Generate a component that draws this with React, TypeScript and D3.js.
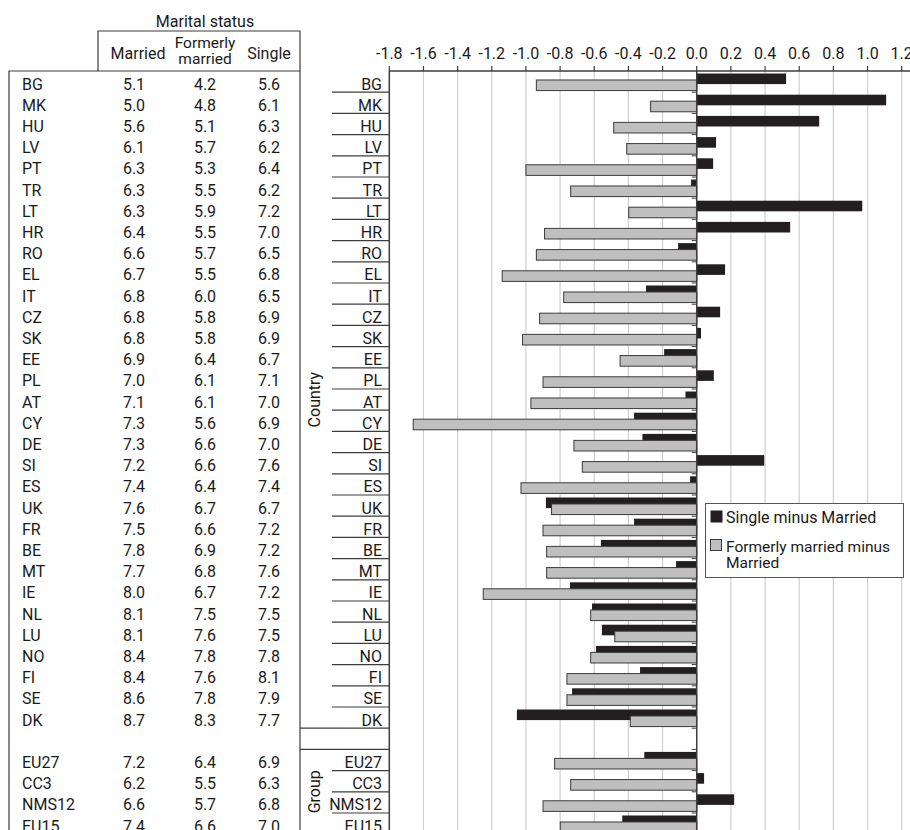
import React from "react";
import * as d3 from "d3";

const categories = ["BG","MK","HU","LV","PT","TR","LT","HR","RO","EL","IT","CZ","SK","EE","PL","AT","CY","DE","SI","ES","UK","FR","BE","MT","IE","NL","LU","NO","FI","SE","DK","","EU27","CC3","NMS12","EU15"];
const married = [5.1,5.0,5.6,6.1,6.3,6.3,6.3,6.4,6.6,6.7,6.8,6.8,6.8,6.9,7.0,7.1,7.3,7.3,7.2,7.4,7.6,7.5,7.8,7.7,8.0,8.1,8.1,8.4,8.4,8.6,8.7,null,7.2,6.2,6.6,7.4];
const formerly = [4.2,4.8,5.1,5.7,5.3,5.5,5.9,5.5,5.7,5.5,6.0,5.8,5.8,6.4,6.1,6.1,5.6,6.6,6.6,6.4,6.7,6.6,6.9,6.8,6.7,7.5,7.6,7.8,7.6,7.8,8.3,null,6.4,5.5,5.7,6.6];
const single = [5.6,6.1,6.3,6.2,6.4,6.2,7.2,7.0,6.5,6.8,6.5,6.9,6.9,6.7,7.1,7.0,6.9,7.0,7.6,7.4,6.7,7.2,7.2,7.6,7.2,7.5,7.5,7.8,8.1,7.9,7.7,null,6.9,6.3,6.8,7.0];
const singleMinusMarried = [0.523,1.109,0.717,0.113,0.096,-0.033,0.969,0.547,-0.109,0.166,-0.297,0.137,0.025,-0.191,0.10,-0.066,-0.367,-0.318,0.395,-0.039,-0.883,-0.367,-0.561,-0.121,-0.742,-0.613,-0.555,-0.590,-0.332,-0.730,-1.053,null,-0.307,0.043,0.219,-0.436];
const formerlyMinusMarried = [-0.939,-0.270,-0.486,-0.410,-1.0,-0.738,-0.398,-0.891,-0.939,-1.139,-0.779,-0.920,-1.020,-0.449,-0.900,-0.971,-1.660,-0.719,-0.670,-1.029,-0.850,-0.900,-0.879,-0.879,-1.25,-0.621,-0.480,-0.621,-0.760,-0.760,-0.389,null,-0.832,-0.738,-0.900,-0.799];
const xTicks = [-1.8,-1.6,-1.4,-1.2,-1.0,-0.8,-0.6,-0.4,-0.2,0.0,0.2,0.4,0.6,0.8,1.0,1.2];
const groups = [{ name: "Country", from: 0, to: 30 }, { name: "", from: 31, to: 31 }, { name: "Group", from: 32, to: 35 }];
const seriesNames = ["Single minus Married", "Formerly married minus Married"];

const W = 910, H = 830;
const FONT = "Roboto, 'Open Sans', sans-serif";
const TXT = "#1a1a1a";
const LINE = "#3c3c3c";

export default function App() {
  const top = 71;
  const rowH = 21.2;
  const x = d3.scaleLinear().domain([-1.8, 1.2]).range([389.3, 901.7]);
  const y = d3.scaleBand<number>().domain(d3.range(categories.length)).range([top, top + rowH * categories.length]).paddingInner(0).paddingOuter(0);
  const bw = y.bandwidth();
  const sub = d3.scaleBand<number>().domain([0, 1]).range([bw * 0.118, bw * 0.882]).paddingInner(-0.5);
  const barH = bw * 0.5;
  const x0 = x(0);
  const labelBoxL = 300, innerL = 332, axisL = x(-1.8);
  const colX = [134, 205, 269];
  const tableCols = [married, formerly, single];

  const fmt = (v: number | null) => (v == null ? "" : v.toFixed(1));

  return (
    <svg width={W} height={H} style={{ position: "absolute", left: 0, top: 0, background: "#fff" }} fontFamily={FONT}>
      <rect x={0} y={0} width={W} height={H} fill="#fff" />
      {/* Table header */}
      <text x={205} y={27} textAnchor="middle" fontSize={16} fill={TXT}>Marital status</text>
      <path d={`M98,71 V31 H300 V${H}`} fill="none" stroke={LINE} strokeWidth={1.2} />
      <path d={`M9,${H} V71 H300`} fill="none" stroke={LINE} strokeWidth={1.2} />
      <text x={138} y={59} textAnchor="middle" fontSize={16} fill={TXT}>Married</text>
      <text x={205} y={48} textAnchor="middle" fontSize={15.5} fill={TXT}>Formerly</text>
      <text x={205} y={64} textAnchor="middle" fontSize={15.5} fill={TXT}>married</text>
      <text x={269} y={59} textAnchor="middle" fontSize={16} fill={TXT}>Single</text>
      {/* Table rows */}
      {categories.map((c, i) => (
        <g key={"t" + i}>
          <text x={22} y={(y(i) as number) + 18.5} fontSize={16} fill={TXT}>{c}</text>
          {tableCols.map((col, j) => (
            <text key={j} x={colX[j]} y={(y(i) as number) + 18.5} textAnchor="middle" fontSize={16} fill={TXT}>{fmt(col[i])}</text>
          ))}
        </g>
      ))}
      {/* Gridlines */}
      {xTicks.filter((t) => t !== 0 && t !== -1.8).map((t) => (
        <line key={"g" + t} x1={x(t)} x2={x(t)} y1={top} y2={H} stroke="#cfcfcf" strokeWidth={1.2} />
      ))}
      {/* Top axis */}
      <line x1={axisL} x2={W} y1={top} y2={top} stroke={LINE} strokeWidth={1.5} />
      {xTicks.map((t) => (
        <g key={"x" + t}>
          <line x1={x(t)} x2={x(t)} y1={top} y2={top - 5} stroke={LINE} strokeWidth={1.2} />
          <text x={x(t)} y={59} textAnchor="middle" fontSize={16} fill={TXT}>{t.toFixed(1)}</text>
        </g>
      ))}
      {/* Bars */}
      {categories.map((c, i) => {
        const y0 = y(i) as number;
        const a = singleMinusMarried[i];
        const b = formerlyMinusMarried[i];
        return (
          <g key={"b" + i}>
            {a != null && (
              <rect x={Math.min(x(a), x0)} y={y0 + (sub(0) as number)} width={Math.abs(x(a) - x0)} height={barH} fill="#231f20" />
            )}
            {b != null && (
              <rect x={Math.min(x(b), x0)} y={y0 + (sub(1) as number)} width={Math.abs(x(b) - x0)} height={barH} fill="#bfbfbf" stroke="#3a3a3a" strokeWidth={1} />
            )}
          </g>
        );
      })}
      {/* Zero axis with ticks */}
      <line x1={x0} x2={x0} y1={top} y2={H} stroke={LINE} strokeWidth={1.5} />
      {categories.map((c, i) => (
        <line key={"zt" + i} x1={x0 - 5} x2={x0} y1={(y(i) as number) + bw} y2={(y(i) as number) + bw} stroke={LINE} strokeWidth={1} />
      ))}
      {/* Category axis box */}
      <line x1={axisL} x2={axisL} y1={top} y2={H} stroke={LINE} strokeWidth={1.5} />
      {categories.map((c, i) => {
        if (i === 0) return null;
        const yy = y(i) as number;
        const isGroupStart = groups.some((g) => g.from === i);
        return <line key={"s" + i} x1={isGroupStart ? labelBoxL : innerL} x2={axisL} y1={yy} y2={yy} stroke={LINE} strokeWidth={1.2} />;
      })}
      {categories.map((c, i) => (
        <text key={"cl" + i} x={382} y={(y(i) as number) + 18.5} textAnchor="end" fontSize={16} fill={TXT}>{c}</text>
      ))}
      {groups.filter((g) => g.name).map((g) => {
        const cy = ((y(g.from) as number) + (y(g.to) as number) + bw) / 2;
        return (
          <text key={g.name} transform={`translate(320,${cy}) rotate(-90)`} textAnchor="middle" fontSize={16} fill={TXT}>{g.name}</text>
        );
      })}
      {/* Legend */}
      <rect x={705.5} y={503.5} width={198} height={74} fill="#fff" stroke="#555" strokeWidth={1} />
      <rect x={710.5} y={510.5} width={12} height={12} fill="#231f20" />
      <text x={726} y={523} fontSize={16} fill={TXT}>{seriesNames[0]}</text>
      <rect x={710.5} y={539.5} width={11} height={11} fill="#bfbfbf" stroke="#3a3a3a" strokeWidth={1} />
      <text x={726} y={552} fontSize={15.5} fill={TXT}>Formerly married minus</text>
      <text x={726} y={568} fontSize={15.5} fill={TXT}>Married</text>
    </svg>
  );
}
